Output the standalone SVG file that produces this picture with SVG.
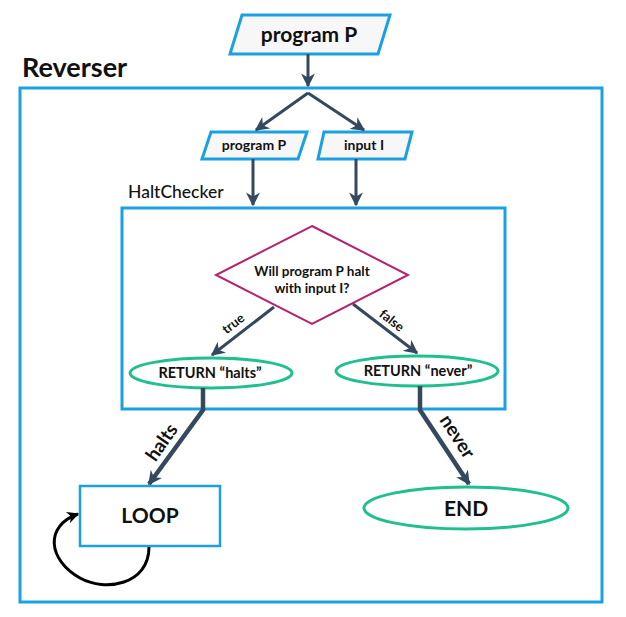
<svg xmlns="http://www.w3.org/2000/svg" width="626" height="617" viewBox="0 0 626 617">
<defs>
<style>
.blue{fill:none;stroke:#1BA1E2;stroke-width:3}
.io{fill:#F7F7F7;stroke:#1BA1E2;stroke-width:3}
.green{fill:#fff;stroke:#1FBF8F;stroke-width:3}
.conn{fill:none;stroke:#34495E;stroke-width:3}
.thick{fill:none;stroke:#34495E;stroke-width:4.5}
.t{font-family:Lato,"Liberation Sans",sans-serif;fill:#111;text-anchor:middle;font-weight:bold}
</style>
<marker id="ah" viewBox="0 0 10 10" refX="9" refY="5" markerWidth="14" markerHeight="14" markerUnits="userSpaceOnUse" orient="auto">
<path d="M0,0 L10,5 L0,10 L3,5 z" fill="#34495E"/>
</marker>
<marker id="ahk" viewBox="0 0 10 10" refX="9" refY="5" markerWidth="12" markerHeight="12" markerUnits="userSpaceOnUse" orient="auto">
<path d="M0,0 L10,5 L0,10 L3,5 z" fill="#000"/>
</marker>
</defs>
<rect width="626" height="617" fill="#fff"/>

<g id="reverser">
<rect class="blue" x="20" y="88" width="582" height="514"/>
<text x="22" y="77" style="font-family:Lato,'Liberation Sans',sans-serif;font-weight:bold;font-size:27px;fill:#111">Reverser</text>
</g>

<g id="haltchecker">
<rect class="blue" x="122" y="208" width="383" height="201"/>
<text x="128" y="198" style="font-family:Lato,'Liberation Sans',sans-serif;font-weight:500;font-size:17.5px;fill:#111">HaltChecker</text>
</g>

<g id="input-program">
<polygon class="io" points="242,15 390,15 378,54 230,54"/>
<text class="t" x="309" y="42" font-size="21">program P</text>
</g>

<g id="program-p">
<polygon class="io" points="211,132 307,132 298,159 202,159"/>
<text class="t" x="254" y="150" font-size="14">program P</text>
</g>

<g id="input-i">
<polygon class="io" points="324,132 412,132 405,159 318,159"/>
<text class="t" x="364" y="150" font-size="14">input I</text>
</g>

<g id="decision">
<polygon fill="#fff" stroke="#B5226E" stroke-width="2" points="312,226 408,275 312,324 216,275"/>
<text class="t" x="312" y="276" font-size="13.5">Will program P halt</text>
<text class="t" x="312" y="293" font-size="13.5">with input I?</text>
</g>

<g id="return-halts">
<ellipse class="green" cx="211" cy="373" rx="81" ry="15"/>
<text class="t" x="210" y="378" font-size="14.5">RETURN “halts”</text>
</g>

<g id="return-never">
<ellipse class="green" cx="417" cy="371" rx="81" ry="15"/>
<text class="t" x="418" y="376" font-size="14.5">RETURN “never”</text>
</g>

<g id="loop">
<rect x="80" y="486" width="140" height="60" fill="#fff" stroke="#1BA1E2" stroke-width="2.5"/>
<text class="t" x="150" y="523" font-size="21">LOOP</text>
</g>

<g id="end">
<ellipse class="green" cx="466" cy="508" rx="102" ry="21"/>
<text class="t" x="466" y="516" font-size="21">END</text>
</g>

<g id="connectors">
<path class="conn" d="M308,54 L308,86" marker-end="url(#ah)"/>
<path class="conn" d="M308,93 L256,130" marker-end="url(#ah)"/>
<path class="conn" d="M308,93 L364,130" marker-end="url(#ah)"/>
<path class="conn" d="M253,159 L253,205" marker-end="url(#ah)"/>
<path class="conn" d="M356,159 L356,205" marker-end="url(#ah)"/>
<path class="conn" d="M274,307 L212,355" marker-end="url(#ah)"/>
<path class="conn" d="M353,304 L417,353" marker-end="url(#ah)"/>
<path class="thick" d="M203,388 L203,410 L149,484" marker-end="url(#ah)"/>
<path class="thick" d="M420,386 L420,410 L469,484" marker-end="url(#ah)"/>
<path d="M149,547 C149,585 105,592 80,578 C48,560 44,526 78,514" fill="none" stroke="#000" stroke-width="3" marker-end="url(#ahk)"/>
<text class="t" font-size="13" transform="translate(236,327) rotate(-38)">true</text>
<text class="t" font-size="13" transform="translate(389,324) rotate(38)">false</text>
<text class="t" font-size="19" transform="translate(167,446) rotate(-55)">halts</text>
<text class="t" font-size="19" transform="translate(452,440) rotate(57)">never</text>
</g>
</svg>
